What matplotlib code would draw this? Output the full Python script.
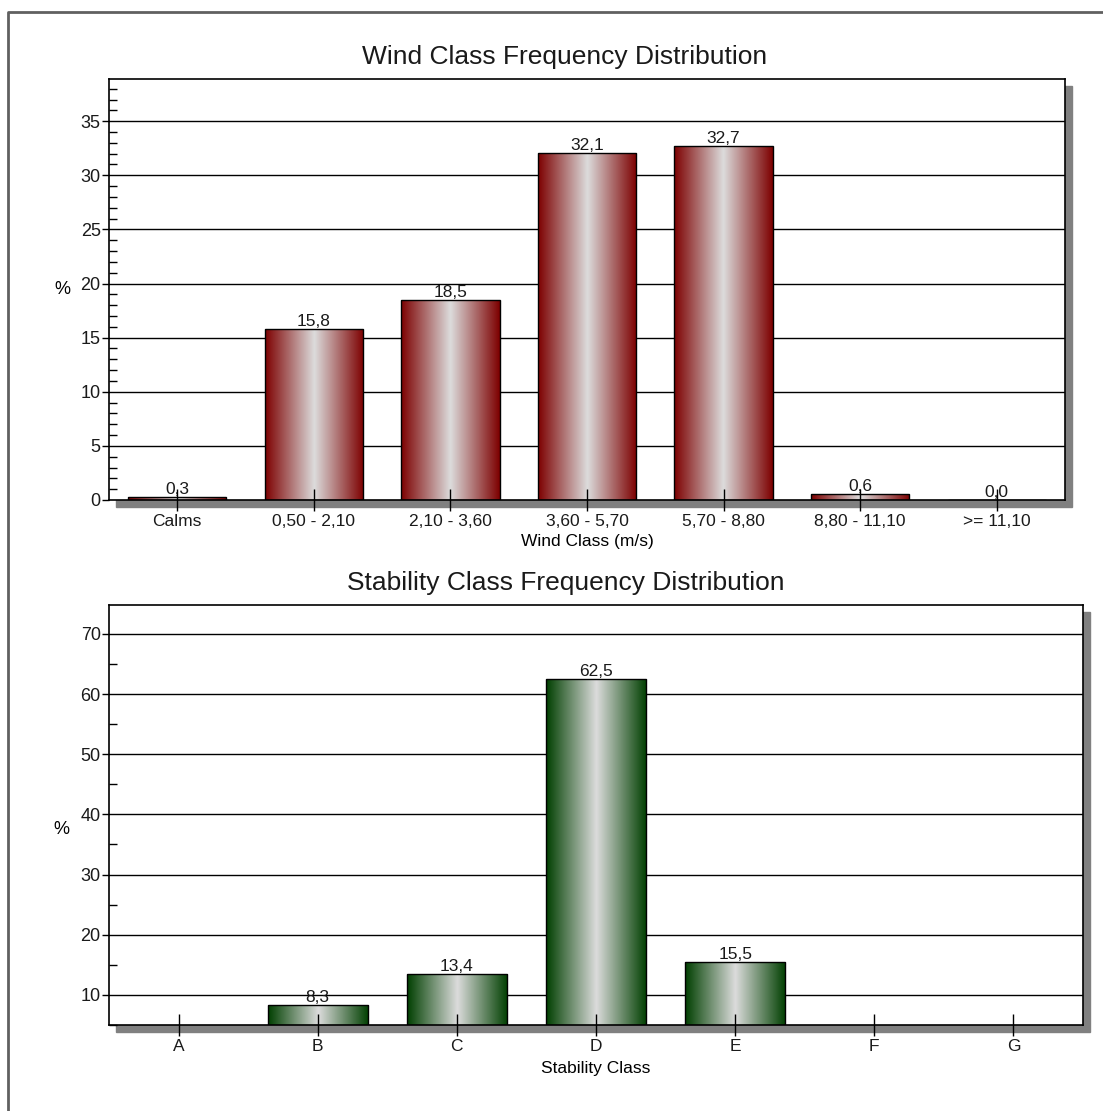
import numpy as np
import matplotlib
matplotlib.use("Agg")
import matplotlib.pyplot as plt
from matplotlib.colors import LinearSegmentedColormap
from matplotlib.patches import Rectangle
from matplotlib.lines import Line2D
from matplotlib.ticker import MultipleLocator

plt.rcParams.update({
    "font.family": ["Liberation Sans", "DejaVu Sans"],
    "text.color": "#1a1a1a",
    "xtick.color": "black",
    "ytick.color": "black",
    "xtick.labelcolor": "#1a1a1a",
    "ytick.labelcolor": "#1a1a1a",
})

# ── data ──
wind_classes = ["Calms", "0,50 - 2,10", "2,10 - 3,60", "3,60 - 5,70",
                "5,70 - 8,80", "8,80 - 11,10", ">= 11,10"]
wind_pct = [0.3, 15.8, 18.5, 32.1, 32.7, 0.6, 0.0]

stab_classes = ["A", "B", "C", "D", "E", "F", "G"]
stab_pct = [0.0, 8.3, 13.4, 62.5, 15.5, 0.0, 0.0]

W, H = 1103, 1111
RED = LinearSegmentedColormap.from_list("red", ["#7d0000", "#dcdcdc", "#7d0000"])
GREEN = LinearSegmentedColormap.from_list("green", ["#003f00", "#dcdcdc", "#003f00"])
GRAD = np.linspace(0, 1, 256).reshape(1, -1)


def px_axes(fig, left, top, right, bottom):
    """axes from pixel box (origin top-left) + grey drop shadow"""
    rect = [left / W, (H - bottom) / H, (right - left) / W, (bottom - top) / H]
    off = 7
    fig.add_artist(Rectangle(((left + off) / W, (H - bottom - off) / H),
                             (right - left) / W, (bottom - top) / H,
                             transform=fig.transFigure, color="#808080",
                             zorder=-1))
    ax = fig.add_axes(rect)
    return ax


def draw_panel(ax, cats, vals, cmap, ylim, major, minor, title, title_x,
               xlabel, xlabel_pad, ylab_y):
    x = np.arange(len(cats))
    bars = ax.bar(x, vals, width=0.72, facecolor="none", edgecolor="black",
                  linewidth=1.0, zorder=2.2)
    for b in bars:
        x0, y0 = b.get_x(), b.get_y()
        y1 = y0 + b.get_height()
        lo = max(y0, ylim[0])
        if y1 <= lo:
            continue
        im = ax.imshow(GRAD, extent=[x0, x0 + b.get_width(), lo, y1],
                       aspect="auto", cmap=cmap, zorder=2, interpolation="bilinear")
        im.set_clip_path(b)

    labels = [f"{v:.1f}".replace(".", ",") if v >= ylim[0] else "" for v in vals]
    ax.bar_label(bars, labels=labels, padding=0, fontsize=12.5)

    ax.set_xlim(-0.5, len(cats) - 0.5)
    ax.set_ylim(*ylim)

    # horizontal grid at the major ticks
    for t in np.arange(major, ylim[1], major):
        if t > ylim[0]:
            ax.axhline(t, color="black", linewidth=1.0, zorder=0.5)

    ax.yaxis.set_major_locator(MultipleLocator(major))
    ax.yaxis.set_minor_locator(MultipleLocator(minor))
    ax.tick_params(axis="y", which="major", direction="out", length=5, width=1,
                   labelsize=13, pad=1)
    ax.tick_params(axis="y", which="minor", direction="in", length=6, width=1)
    ax.set_xticks(x)
    ax.set_xticklabels(cats)
    ax.tick_params(axis="x", direction="inout", length=16, width=1,
                   labelsize=12.5, pad=2)
    ax.xaxis.set_zorder(3)

    for s in ax.spines.values():
        s.set_linewidth(1.2)

    ax.set_title(title, fontsize=19, pad=11, x=title_x)
    ax.set_xlabel(xlabel, fontsize=12.5, labelpad=xlabel_pad)
    ax.set_ylabel("%", rotation=0, fontsize=13, va="center", ha="center")
    ax.yaxis.set_label_coords(-0.049, ylab_y)


fig = plt.figure(figsize=(W / 100, H / 100), dpi=100)

# outer frame
fig.add_artist(Line2D([8 / W, 8 / W, 1.0], [0.0, 1 - 12 / H, 1 - 12 / H],
                      transform=fig.transFigure, color="#606060", linewidth=2))

ax1 = px_axes(fig, 109, 79, 1065, 500)
draw_panel(ax1, wind_classes, wind_pct, RED, (0, 38.9), 5, 1,
           "Wind Class Frequency Distribution", 0.477,
           "Wind Class (m/s)", 4, 0.5)

ax2 = px_axes(fig, 109, 605, 1083, 1025)
draw_panel(ax2, stab_classes, stab_pct, GREEN, (5, 74.8), 10, 5,
           "Stability Class Frequency Distribution", 0.469,
           "Stability Class", 5, 0.465)

fig.savefig("out.png", dpi=100)
